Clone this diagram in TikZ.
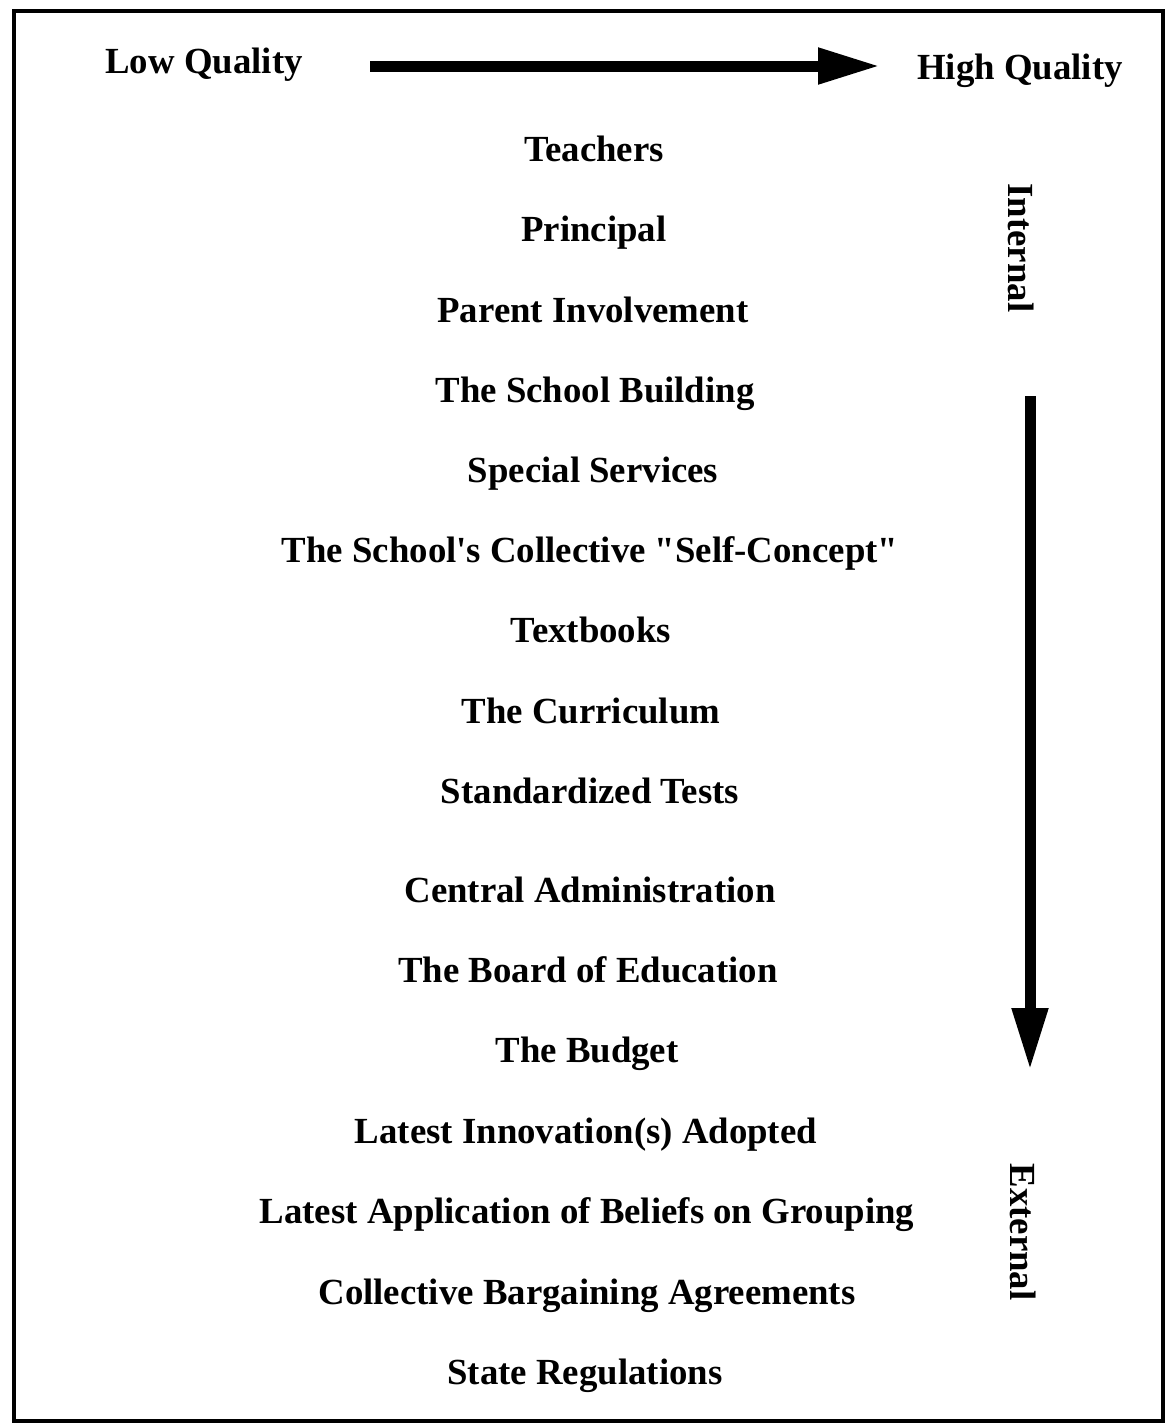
\documentclass[tikz,border=0pt]{standalone}
\usepackage{fontspec}
\setmainfont{Liberation Serif}[Ligatures=TeXOff]
\usetikzlibrary{arrows.meta}
\begin{document}
\begin{tikzpicture}[x=0.5pt,y=-0.5pt,
    f/.style={font=\bfseries\fontsize{18.4}{22}\selectfont, inner sep=0pt, anchor=base},
    big/.style={line width=5.5pt, -{Triangle[length=31pt,width=17pt]}}]
  \useasboundingbox (0,0) rectangle (1166,1426);
  \draw[line width=2pt] (14,11) rectangle (1163,1421);
  \node[f] (low) at (204,73) {Low Quality};
  \node[f] (high) at (1020,79) {High Quality};
  \coordinate (h1) at (370,66); \coordinate (h2) at (880,66);
  \draw[big] (h1) -- (h2);
  \foreach \n/\x/\y/\t in {teach/594/161/Teachers, princ/594/241/Principal,
      parent/593/322/Parent Involvement, build/595/402/The School Building,
      spec/593/482/Special Services,
      self/590/562/The School's Collective "Self-Concept",
      text/591/642/Textbooks, curr/591/723/The Curriculum, tests/590/803/Standardized Tests,
      admin/590/902/Central Administration, board/588/982/The Board of Education,
      budget/587/1062/The Budget, innov/586/1143/Latest Innovation(s) Adopted,
      group/587/1223/Latest Application of Beliefs on Grouping,
      barg/587/1304/Collective Bargaining Agreements, state/585/1384/State Regulations}
    \node[f] (\n) at (\x,\y) {\t};
  \node[f, anchor=center, rotate=-90] (int) at (1021,248) {Internal};
  \node[f, anchor=center, rotate=-90] (ext) at (1023,1232) {External};
  \coordinate (v1) at (1030,396); \coordinate (v2) at (1030,1070);
  \draw[big] (v1) -- (v2);
\end{tikzpicture}
\end{document}
